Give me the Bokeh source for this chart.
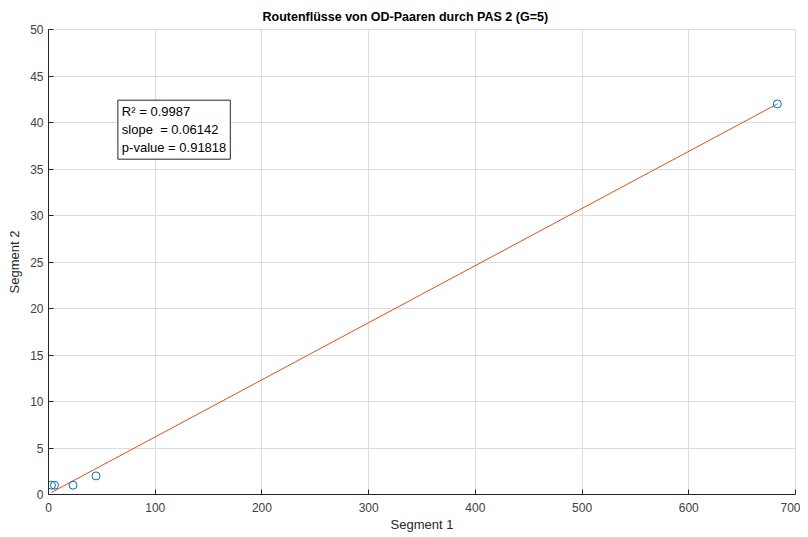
from bokeh.plotting import figure
from bokeh.models import Range1d, Label, FixedTicker
from bokeh.embed import file_html
from bokeh.resources import INLINE

seg1 = [2.8, 5.6, 23, 44.5, 683]
seg2 = [1, 1, 1, 2, 42]
slope = 0.06142
intercept = 0.05
x_ticks = [0, 100, 200, 300, 400, 500, 600, 700]
y_ticks = [0, 5, 10, 15, 20, 25, 30, 35, 40, 45, 50]
stats_text = "R\u00b2 = 0.9987\nslope\u00a0\u00a0= 0.06142\np-value = 0.91818"

FONT = "Liberation Sans"

p = figure(width=800, height=536, output_backend="svg", toolbar_location=None,
           x_range=Range1d(0, 700), y_range=Range1d(0, 50),
           min_border_left=48, min_border_right=5, min_border_top=29, min_border_bottom=42,
           title="Routenflüsse von OD-Paaren durch PAS 2 (G=5)")
p.title.align = "left"
p.title.text_font = FONT
p.title.text_font_size = "12.5px"
p.title.text_font_style = "bold"
p.title.text_color = "#000000"
p.title.offset = 214
p.title.standoff = 8
p.title.vertical_align = "top"

p.outline_line_color = "#dcdcdc"
p.outline_line_width = 1
p.outline_line_alpha = 1.0

for ax in (p.xaxis[0], p.yaxis[0]):
    ax.major_tick_in = 5
    ax.major_tick_out = 0
    ax.minor_tick_in = 0
    ax.minor_tick_out = 0
    ax.axis_line_color = "#262626"
    ax.major_tick_line_color = "#262626"
    ax.major_label_text_font = FONT
    ax.major_label_text_font_size = "12px"
    ax.major_label_text_color = "#404040"
    ax.axis_label_text_font = FONT
    ax.axis_label_text_font_size = "13px"
    ax.axis_label_text_font_style = "normal"
    ax.axis_label_text_color = "#262626"

p.xaxis[0].ticker = FixedTicker(ticks=x_ticks)
p.yaxis[0].ticker = FixedTicker(ticks=y_ticks)
p.xaxis[0].axis_label = "Segment 1"
p.yaxis[0].axis_label = "Segment 2"
p.xaxis[0].major_label_standoff = 8
p.yaxis[0].major_label_standoff = 5
p.xaxis[0].axis_label_standoff = 2
p.yaxis[0].axis_label_standoff = 5

p.xgrid.ticker = FixedTicker(ticks=x_ticks)
p.ygrid.ticker = FixedTicker(ticks=y_ticks)
p.grid.grid_line_color = "#dcdcdc"
p.grid.grid_line_alpha = 1.0

# regression line across data range
x0, x1 = min(seg1), max(seg1)
p.line([x0, x1], [slope * x0 + intercept, slope * x1 + intercept],
       line_color="#D95319", line_width=1)

p.scatter(seg1, seg2, marker="circle", size=8, fill_color=None,
          line_color="#0072BD", line_width=1)

lab = Label(x=65, y=42.4, text=stats_text, text_font=FONT, text_font_size="13px",
            text_color="#000000", text_align="left", text_baseline="top",
            background_fill_color="white", border_line_color="#262626",
            border_line_width=1, padding=4, text_line_height=1.2)
p.add_layout(lab)

open("out.html", "w").write(file_html(p, INLINE))
